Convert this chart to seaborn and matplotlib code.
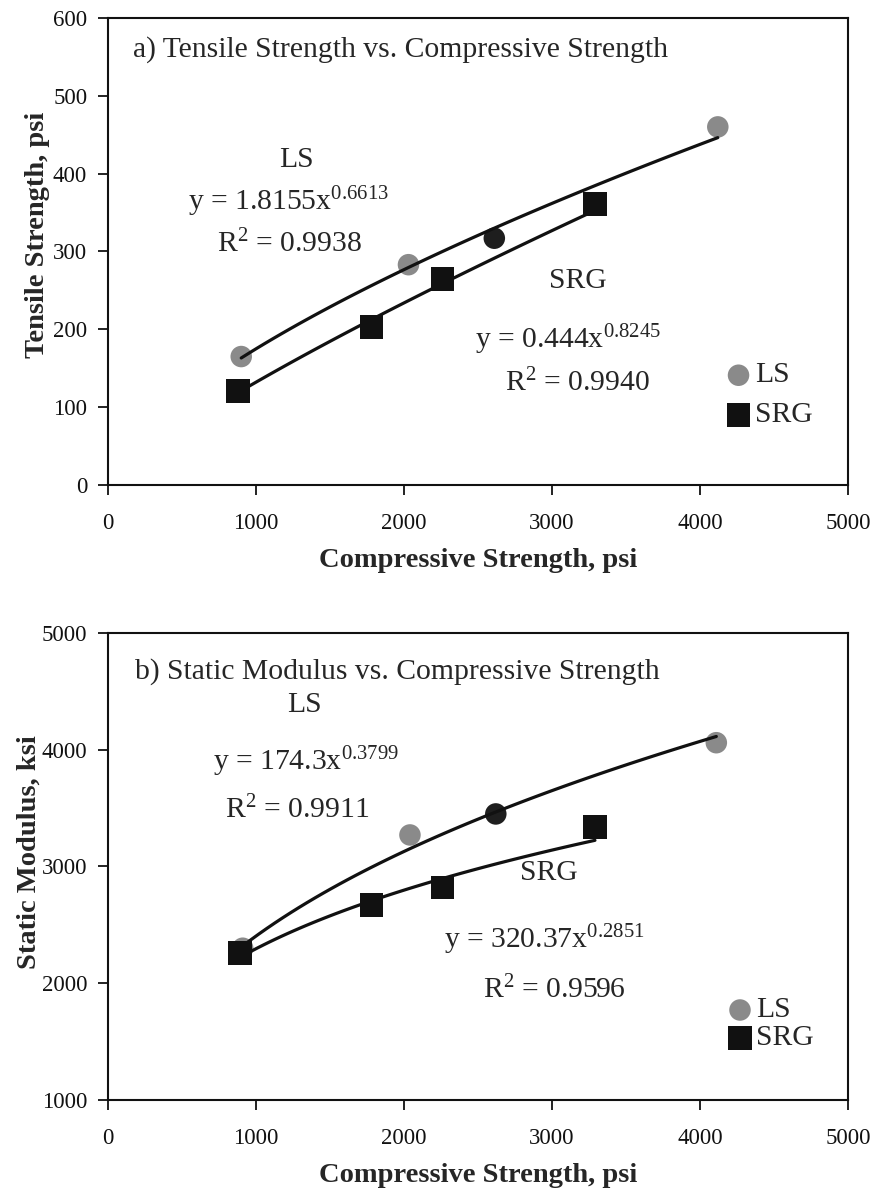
import numpy as np
import pandas as pd
import matplotlib
matplotlib.use("Agg")
import matplotlib.pyplot as plt
import seaborn as sns

sns.set_theme(style="white")
plt.rcParams["font.family"] = ["Liberation Serif", "DejaVu Serif"]
plt.rcParams["mathtext.fontset"] = "custom"
plt.rcParams["mathtext.rm"] = "Liberation Serif"
plt.rcParams["mathtext.it"] = "Liberation Serif:italic"

# ---- data ----
ls_fc = [900, 2030, 2610, 4120]
ls_ft = [165, 283, 317, 460]
srg_fc = [880, 1780, 2260, 3290]
srg_ft = [121, 203, 265, 361]

ls_fc_b = [910, 2040, 2620, 4110]
ls_e = [2300, 3270, 3450, 4060]
srg_fc_b = [890, 1780, 2260, 3290]
srg_e = [2260, 2670, 2820, 3340]

# power-law fits y = a * x^b
fit_a = {"a_LS": 1.8155, "a_SRG": 0.444, "b_LS": 174.3, "b_SRG": 320.37}
fit_b = {"a_LS": 0.6613, "a_SRG": 0.8245, "b_LS": 0.3799, "b_SRG": 0.2851}
r2 = {"a_LS": "0.9938", "a_SRG": "0.9940", "b_LS": "0.9911", "b_SRG": "0.9596"}

x_ticks = [0, 1000, 2000, 3000, 4000, 5000]
y_ticks_a = [0, 100, 200, 300, 400, 500, 600]
y_ticks_b = [1000, 2000, 3000, 4000, 5000]

ls_colors = ["#8a8a8a", "#8a8a8a", "#1e1e1e", "#8a8a8a"]
srg_color = "#111111"

fig = plt.figure(figsize=(8.74, 11.94), dpi=100)
ax1 = fig.add_axes([0.1236, 0.5938, 0.8467, 0.3912])
ax2 = fig.add_axes([0.1236, 0.0787, 0.8467, 0.3912])


def fit_curve(key, xs):
    xx = np.linspace(min(xs), max(xs), 60)
    return pd.DataFrame({"x": xx, "y": fit_a[key] * xx ** fit_b[key]})


def draw_panel(ax, pre, lsx, lsy, srx, sry, ylim, yticks, ylabel):
    # fitted curves
    for key, xs in ((pre + "_LS", lsx), (pre + "_SRG", srx)):
        d = fit_curve(key, xs)
        sns.lineplot(data=d, x="x", y="y", ax=ax, color="#111111", lw=2.3,
                     zorder=3)
    # measured points
    dls = pd.DataFrame({"x": lsx, "y": lsy, "c": ls_colors})
    for c, g in dls.groupby("c"):
        sns.scatterplot(data=g, x="x", y="y", ax=ax, color=c, marker="o",
                        s=240, edgecolor="none", zorder=2)
    dsr = pd.DataFrame({"x": srx, "y": sry})
    sns.scatterplot(data=dsr, x="x", y="y", ax=ax, color=srg_color,
                    marker="s", s=290, edgecolor="none", zorder=4)

    ax.set_xlim(0, 5000)
    ax.set_ylim(*ylim)
    ax.set_xticks(x_ticks)
    ax.set_yticks(yticks)
    ax.tick_params(axis="x", direction="out", length=7, width=1.3,
                   labelsize=16.5, colors="#111111", pad=13)
    ax.tick_params(axis="y", direction="out", length=7, width=1.3,
                   labelsize=16.5, colors="#111111", pad=8)
    ax.tick_params(axis="both", which="both", bottom=True, left=True)
    for s in ax.spines.values():
        s.set_color("#111111")
        s.set_linewidth(1.5)
    ax.set_xlabel("Compressive Strength, psi", fontsize=20.5,
                  fontweight="bold", labelpad=10)
    ax.set_ylabel(ylabel, fontsize=20.5, fontweight="bold", labelpad=3)
    ax.grid(False)


draw_panel(ax1, "a", ls_fc, ls_ft, srg_fc, srg_ft, (0, 600), y_ticks_a,
           "Tensile Strength, psi")
draw_panel(ax2, "b", ls_fc_b, ls_e, srg_fc_b, srg_e, (1000, 5000), y_ticks_b,
           "Static Modulus, ksi")
# y-label placement (axes fraction)
ax1.yaxis.set_label_coords(-0.078, 0.535)
ax2.yaxis.set_label_coords(-0.090, 0.53)


def eq_text(key):
    return r"y = %gx$^{\mathrm{%.4f}}$" % (fit_a[key], fit_b[key])


def r2_text(key):
    return r"R$^{\mathrm{2}}$ = " + r2[key]


fs = 21.3
# panel a annotations
ax1.text(170, 559, "a) Tensile Strength vs. Compressive Strength",
         fontsize=fs, va="center", ha="left")
ax1.text(1273, 417, "LS", fontsize=fs, ha="center", va="center")
ax1.text(1220, 364, eq_text("a_LS"), fontsize=fs, ha="center", va="center")
ax1.text(1226, 310, r2_text("a_LS"), fontsize=fs, ha="center", va="center")
ax1.text(3174, 262, "SRG", fontsize=fs, ha="center", va="center")
ax1.text(3106, 186, eq_text("a_SRG"), fontsize=fs, ha="center", va="center")
ax1.text(3174, 131, r2_text("a_SRG"), fontsize=fs, ha="center", va="center")

# panel b annotations
ax2.text(180, 4666, "b) Static Modulus vs. Compressive Strength",
         fontsize=fs, va="center", ha="left")
ax2.text(1327, 4383, "LS", fontsize=fs, ha="center", va="center")
ax2.text(1341, 3900, eq_text("b_LS"), fontsize=fs, ha="center", va="center")
ax2.text(1280, 3480, r2_text("b_LS"), fontsize=fs, ha="center", va="center")
ax2.text(2978, 2944, "SRG", fontsize=fs, ha="center", va="center")
ax2.text(2945, 2370, eq_text("b_SRG"), fontsize=fs, ha="center", va="center")
ax2.text(3018, 1942, r2_text("b_SRG"), fontsize=fs, ha="center", va="center")


# legends drawn inside the plot area
def legend(ax, x, y1, y2):
    sns.scatterplot(x=[x], y=[y1], ax=ax, color="#8a8a8a", marker="o",
                    s=240, edgecolor="none", zorder=4)
    sns.scatterplot(x=[x], y=[y2], ax=ax, color=srg_color, marker="s",
                    s=290, edgecolor="none", zorder=4)
    xt = x + 110
    ax.text(xt, y1, "LS", fontsize=fs, ha="left", va="center")
    ax.text(xt, y2, "SRG", fontsize=fs, ha="left", va="center")


legend(ax1, 4260, 141, 90)
legend(ax2, 4270, 1771, 1531)

fig.savefig("out.png", dpi=100)
